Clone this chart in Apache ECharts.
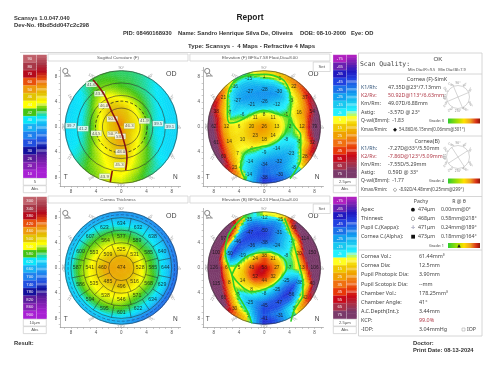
<!DOCTYPE html>
<html lang="en">
<head>
<meta charset="UTF-8">
<title>Scansys 4 Maps</title>
<style>html,body{margin:0;background:#fff}#main{width:500px;height:377px}</style>
</head>
<body>
<div id="main"></div>
<script src="https://cdn.jsdelivr.net/npm/echarts@6/dist/echarts.min.js"></script>
<script>
// colour bars
var sagScale = [90,80,70,60,50,46,44,42,40,38,36,34,30,26,20,10];
var thickScale = [300,340,380,420,460,500,540,580,620,660,700,740,780,820,860,900];
var elevScale = [-75,-65,-55,-45,-35,-25,-15,-5,5,15,25,35,45,55,65,75];
var warmCool = ['#c0606a','#a83848','#b50a1c','#e8500c','#ee9a0c','#e2c400','#ffff00','#44c414','#08e6fa','#18b0f4','#1e80ee','#2050e0','#12109c','#5a1c9c','#8420b4','#a820d4'];
var elevColors = ['#b020c0','#6820b0','#2018c0','#2040e0','#1a70e8','#10a0f0','#18c8f0','#20f0ff','#ffff20','#f0c800','#f0a000','#f07010','#e83808','#c80818','#a83048','#7a3a6a'];

// map values, one row per 1mm ring, sectors counter-clockwise from 0 deg
var sagField = [
[47,47,47,48,48,49,50,50,50,51,51,51,51,51,50,50,50,49,49,49,49,49,50,50,51,52,53,53,53,52,51,50,49,48,48,47],
[46,46,46,46,46,46.5,47,47.5,48,48.5,49,49.5,50,50,49,48,47,47,46.5,46.5,47,47,47.5,48,49,50,50.5,51,50,49,48,47,46.5,46,46,46],
[44.8,44.8,44.8,45,45,45.2,45.5,46,46.5,47,47.5,48,48,47,46.5,46,45.5,45,45,45,45,45.5,46,46,47,47.5,48.5,49,48,47,46,45.5,45,44.8,44.8,44.8],
[43,43.2,43.4,43.6,43.8,44,44.3,44.8,45.2,45.5,46,46.2,46.5,45.8,45,44.5,44,44,44,44,44.2,44.5,45,45.2,45.5,46,47,47.8,46.8,46,45,44.5,44,43.5,43.2,43],
[41.2,41.5,41.8,42,42.3,42.8,43.2,43.5,43.8,44,44.5,44.8,45,44.5,44,43.2,42.8,42.5,42.3,42.5,42.8,43.2,43.8,44.2,44.5,45.2,46,46.5,45.6,45,44,43.5,43,42.2,41.8,41.4],
[40.2,40.3,40.5,40.8,41.2,41.6,42,42.3,42.6,42.8,43.3,43.8,44,43.4,42.8,42,41.5,41.3,41.1,41.3,41.8,42.2,43,43.4,44,44.5,45.2,45.3,44.8,44,43.2,42.6,42,41,40.5,40.2],
[39.9,39.9,40,40.1,40.4,40.8,41.2,41.5,41.8,42,42.4,42.8,43,42.5,41.5,40.6,40.2,40,40,40.2,40.6,41.2,42,42.8,43.4,44,44.6,44.8,44.2,43.4,42.8,42,41,40.2,40,39.9],
[39.6,39.6,39.7,39.8,40,40.3,40.8,41.2,41.5,41.6,42,42.2,42.3,41.5,40.4,39.9,39.8,39.8,39.8,39.9,40,40.5,41.5,42.5,43,43.6,44,44.2,43.6,43,42,41.2,40.2,39.8,39.6,39.6],
[39.4,39.4,39.4,39.5,39.7,40,40.5,41,41.2,41.3,41.5,41.8,41.8,41,40,39.7,39.5,39.5,39.5,39.6,39.8,40.2,41,42,42.5,43.2,43.6,43.6,43,42.2,41.4,40.6,40,39.6,39.4,39.4]
];
var elevFField = [
[24,24,25,25,24,24,24,24,23,23,24,25,25,25,26,26,26,27,27,27,27,27,27,27,26,26,25,25,25,25,25,24,24,24,24,24],
[16,16,15,15,14,14,13,13,12,12,12,13,14,15,16,18,20,21,22,23,23,24,24,24,23,22,21,20,20,19,19,18,18,17,17,16],
[10,9,9,8,7,6,4,3,1,0,0,1,2,4,5,7,12,15,16,17,18,19,19,18,17,15,13,11,10,8,7,7,8,8,9,10],
[1,2,2,2,-2,-5,-8,-12,-16,-19,-19,-17,-14,-9,-5,-3,3,8,9,11,12,13,12,10,8,4,0,-4,-6,-8,-9,-7,-5,-4,-2,0],
[-1,0,0,1,-4,-8,-15,-20,-24,-27,-26,-25,-23,-18,-11,-6,0,4,8,9,11,10,7,4,0,-4,-10,-15,-18,-19,-18,-16,-12,-7,-4,-2],
[9,11,13,7,0,-8,-20,-27,-28,-28,-28,-27,-27,-25,-17,-14,-6,3,11,12,13,11,8,2,-6,-12,-20,-28,-29,-28,-25,-22,-18,-10,-3,5],
[29,25,25,15,6,0,-12,-20,-22,-21,-23,-24,-24,-22,-12,0,8,20,25,27,28,24,18,8,-3,-14,-24,-35,-33,-32,-26,-20,-10,0,4,14],
[68,60,42,32,22,14,6,-2,-5,-6,-12,-17,-18,-12,0,20,32,52,58,60,58,50,38,24,0,-12,-25,-37,-33,-30,-20,-9,2,24,26,58],
[95,85,72,60,48,36,28,18,12,12,6,-2,-2,8,32,48,62,76,88,90,88,80,72,50,28,0,-25,-48,-42,-36,-22,-4,26,50,62,82]
];
var thickField = [
[474],
[480,480,478,476,470,474,478,480],
[515,518,512,498,470,480,488,505],
[545,550,545,525,495,505,515,535],
[572,575,578,572,565,555,548,538,525,525,530,535,535,552,560,562],
[595,595,598,592,585,575,570,560,552,546,548,552,558,580,588,582],
[622,622,620,612,612,600,590,580,570,565,572,575,580,602,612,610],
[650,646,644,640,642,632,616,610,598,598,604,606,615,634,645,640],
[710,700,690,680,680,670,660,650,640,640,650,650,662,695,710,715]
];
var elevBField = [
[52,52,52,50,48,47,46,46,46,46,47,48,50,52,54,54,55,55,56,56,57,58,60,60,60,60,58,56,56,54,53,52,52,52,52,52],
[35,34,33,32,31,31,34,37,40,42,40,37,35,33,34,38,42,45,47,49,51,53,54,54,52,51,50,48,46,44,41,39,38,37,37,36],
[20,18,17,15,12,8,7,8,9,10,10,10,8,8,10,15,22,28,33,37,40,42,43,42,37,32,28,22,20,18,16,15,16,16,17,19],
[-2,-3,-3,-4,-8,-12,-16,-22,-26,-28,-28,-26,-25,-20,-14,-8,0,6,12,15,17,18,16,14,12,8,4,1,-3,-8,-12,-14,-14,-12,-8,-4],
[-1,-1,-2,-4,-10,-18,-26,-32,-38,-42,-42,-41,-40,-37,-34,-30,-18,-5,5,8,10,10,7,4,1,-5,-12,-18,-24,-28,-32,-35,-35,-30,-18,-6],
[9,10,13,6,-4,-12,-22,-30,-40,-47,-47,-46,-45,-44,-44,-45,-40,-15,5,7,8,5,0,-8,-15,-22,-30,-36,-40,-42,-45,-49,-48,-42,-30,-8],
[36,45,52,25,4,-6,-18,-30,-38,-40,-43,-43,-38,-28,-12,-18,-12,10,36,38,38,25,10,0,-12,-18,-32,-44,-44,-42,-38,-38,-25,-15,-5,10],
[82,110,118,90,60,42,10,-25,-28,-22,-30,-30,-5,35,60,60,65,85,96,92,85,65,45,20,6,-3,-28,-42,-35,-30,-14,-6,5,18,20,60],
[150,160,160,140,120,90,50,10,5,5,-5,0,40,80,120,130,130,140,160,150,140,110,85,55,30,14,-20,-50,-44,-30,-10,15,35,60,80,120]
];

// printed numbers on the maps, by ring radius in mm
var elevFCenter = [26];
var elevFR2 = [13,11,8,11,20,23,18,14];
var elevFR4 = [-2,-1,-12,-26,-21,-6,6,10,4,-9,-14,-8];
var elevFR6 = [12,16,-3,-30,-28,-27,-27,-7,12,14,7,-14,-34,-32,-23,-5];
var elevFR8 = [79,54,37,22,6,1,-15,-16,21,38,62,61,60,23,-14,-38,-30,-8,28,32];
var elevBCenter = [58];
var elevBR2 = [27,21,38,24,43,52,44,32];
var elevBR4 = [-7,-8,-24,-38,-36,-19,5,14,8,-8,-25,-25];
var elevBR6 = [13,20,-7,-31,-50,-47,-46,-50,6,8,-5,-25,-45,-47,-56,-38];
var elevBR8 = [106,150,114,60,-25,-12,-35,9,97,100,126,115,66,30,5,-41,-31,3,42,40];
var thickCenter = [474];
var thickR3 = [528,531,525,509,460,485,496,516];
var thickR5 = [585,585,589,577,564,553,541,535,538,546,571,568];
var thickR7 = [644,640,638,632,634,623,607,600,587,586,594,595,601,622,634,629];
var sagLabelX = [-4.76,-3.44,-2.75,-1.43,-1.38,-0.16,-0.05,-0.3,-2.65,-8,-6.08,-3.97,1.27,3.65,5.82,7.73];
var sagLabelY = [6.77,5.29,3.39,1.27,-1.11,-1.48,-3.97,-6.03,-7.83,0.2,-0.26,-1,0.16,0.95,0.53,0.1];
var sagLabelText = ['41.6','43.8','46.0','50.5','50.7','53.8','48.0','45.3','43.9','39.7','41.2','44.5','46.3','41.9','39.5','39.1'];

// traced lines, mm
var sagAxisA = [[-4.5,7.51],[-2.8,5.29],[-1.48,2.38],[-0.42,0.26],[0.37,-2.12],[0.9,-4.76],[0.69,-6.88]];
var sagAxisB = [[-1.43,-6.98],[-1.75,-8.73]];
var elevFTop = [[-5.59,5.93],[-4.63,7.3],[-2.52,8.2],[0.13,8.36],[2.77,7.67],[3.67,6.61],[4.1,5.29],[4.2,3.44],[3.88,1.59],[1.98,2.12],[-0.14,2.65],[-2.25,1.85],[-4.37,0.79],[-5.43,0.63],[-5.85,2.12],[-5.85,4.23],[-5.59,5.93]];
var elevFLowL = [[-3.05,-8.2],[-3.74,-6.35],[-3.42,-4.76],[-2.52,-3.7],[-0.67,-3.17],[1.45,-2.65],[3.3,-1.06],[3.99,1.32]];
var elevFLowR = [[3.99,1.32],[4.89,0],[5.79,-1.32],[5.79,-3.17],[5.79,-5.03],[5.15,-6.61],[4.1,-8.2]];
var elevBIsland = [[-5.13,-1.11],[-4.07,0.74],[-1.96,2.17],[0.95,2.49],[3.07,1.53],[3.6,0.21],[2.8,-1.38],[0.95,-2.96],[-1.96,-3.76],[-3.81,-2.7],[-5.13,-1.11]];
var elevBLeft = [[-3,8.3],[-4.6,6.83],[-5.8,4.97],[-6.19,2.6],[-5.82,0.74],[-5.13,-1.11],[-4.6,-3.49],[-3.54,-5.34],[-2.65,-6.93],[-1.96,-8.78]];
var elevBRight = [[3.23,7.88],[3.86,6.3],[4.55,4.29],[5.08,2.33],[5.61,0.21],[6.14,-2.17],[6.14,-4.29],[5.45,-5.61],[4.76,-6.67],[4.23,-8.52]];

var degLabels = [0,30,60,90,120,150,180,210,240,270,300,330];
var axisLabelVals = [-8,-4,0,4,8];
var axisTickVals = [-9,-8,-7,-6,-5,-4,-3,-2,-1,0,1,2,3,4,5,6,7,8,9];

var PX = 6.3, RIM = 8.94;
var FONT = 'Liberation Sans';
var chart = echarts.init(document.getElementById('main'));
var grids = [], xAxes = [], yAxes = [], series = [], graphic = [];

function colorFn(vals, cols) {
    var pairs = vals.map(function (v, i) { return [v, cols[i]]; }).sort(function (a, b) { return a[0] - b[0]; });
    return function (v) {
        if (v <= pairs[0][0]) return pairs[0][1];
        for (var i = 1; i < pairs.length; i++) {
            if (v <= pairs[i][0]) {
                return echarts.color.lerp((v - pairs[i - 1][0]) / (pairs[i][0] - pairs[i - 1][0]), [pairs[i - 1][1], pairs[i][1]]);
            }
        }
        return pairs[pairs.length - 1][1];
    };
}
var sagColor = colorFn(sagScale, warmCool);
var thickColor = colorFn(thickScale, warmCool);
// elevation needs the green zero line between cyan and yellow
var elevColor = colorFn(elevScale.concat([0]), elevColors.concat(['#3cd828']));

function polar(r, deg) {
    var a = deg * Math.PI / 180;
    return [r * Math.cos(a), r * Math.sin(a)];
}

function addGrid(cx, cy) {
    var xMin = -9.7, xMax = 9.4, yMax = 9.45;
    grids.push({ left: cx + xMin * PX, top: cy - yMax * PX, width: (xMax - xMin) * PX, height: 2 * yMax * PX });
    var common = {
        type: 'value', splitLine: { show: false },
        axisLine: { show: true, onZero: false, lineStyle: { color: '#999', width: 0.7 } },
        axisTick: { show: true, customValues: axisTickVals, length: 1.5, lineStyle: { color: '#999', width: 0.5 } },
        axisLabel: { customValues: axisLabelVals, fontSize: 4.5, color: '#555', margin: 3, fontFamily: FONT, formatter: function (v) { return Math.abs(v); } }
    };
    xAxes.push(Object.assign({}, common, { gridIndex: grids.length - 1, min: xMin, max: xMax, position: 'bottom' }));
    yAxes.push(Object.assign({}, common, { gridIndex: grids.length - 1, min: -yMax, max: yMax, position: 'left' }));
    return grids.length - 1;
}

function ringAt(row, deg) {
    var n = row.length;
    if (n === 1) return row[0];
    var p = ((deg / (360 / n)) % n + n) % n, a = Math.floor(p), t = p - a;
    return row[a] * (1 - t) + row[(a + 1) % n] * t;
}
// shading inside a cell blends towards the neighbouring cells
function shadeAt(field, r, deg) {
    var q = r - 0.5;
    if (q <= 0) return ringAt(field[0], deg);
    if (q >= field.length - 1) return ringAt(field[field.length - 1], deg);
    var a = Math.floor(q), t = q - a;
    return ringAt(field[a], deg) * (1 - t) + ringAt(field[a + 1], deg) * t;
}

function addField(g, field, colorOf) {
    var data = [];
    field.forEach(function (row, k) {
        row.forEach(function (v, i) { data.push([k, i, v]); });
    });
    var radialSub = 3;
    series.push({
        type: 'custom', xAxisIndex: g, yAxisIndex: g, silent: true, data: data,
        encode: { x: -1, y: -1 },
        renderItem: function (params, api) {
            var k = api.value(0), i = api.value(1);
            var n = field[k].length, step = 360 / n, deg = i * step;
            var c = api.coord([0, 0]), px = api.size([1, 1])[0];
            var rEnd = Math.min(k + 1, RIM), angSub = Math.min(Math.ceil(step / 3.4), 40);
            var kids = [];
            for (var a = 0; a < radialSub; a++) {
                var r0 = k + (rEnd - k) * a / radialSub, r1 = k + (rEnd - k) * (a + 1) / radialSub;
                for (var b = 0; b < angSub; b++) {
                    var d0 = deg - step / 2 + step * b / angSub, d1 = d0 + step / angSub;
                    var col = colorOf(shadeAt(field, (r0 + r1) / 2, (d0 + d1) / 2));
                    kids.push({
                        type: 'sector',
                        shape: {
                            cx: c[0], cy: c[1], r0: r0 * px, r: r1 * px, clockwise: true,
                            startAngle: -d1 * Math.PI / 180, endAngle: -d0 * Math.PI / 180
                        },
                        style: { fill: col, stroke: col, lineWidth: 0.5 }
                    });
                }
            }
            return { type: 'group', children: kids };
        }
    });
}

// rings: [radius, dashed]
function addRings(g, rings, color, width) {
    series.push({
        type: 'custom', xAxisIndex: g, yAxisIndex: g, silent: true, data: rings, encode: { x: -1, y: -1 },
        renderItem: function (params, api) {
            var c = api.coord([0, 0]), px = api.size([1, 1])[0];
            return {
                type: 'circle', shape: { cx: c[0], cy: c[1], r: api.value(0) * px },
                style: { fill: 'none', stroke: color, lineWidth: width, lineDash: api.value(1) ? [3, 2] : null }
            };
        }
    });
}

// spokes: [r0, r1, angle]
function addSpokes(g, spokes) {
    series.push({
        type: 'custom', xAxisIndex: g, yAxisIndex: g, silent: true, data: spokes, encode: { x: -1, y: -1 },
        renderItem: function (params, api) {
            var a = api.coord(polar(api.value(0), api.value(2)));
            var b = api.coord(polar(api.value(1), api.value(2)));
            return { type: 'line', shape: { x1: a[0], y1: a[1], x2: b[0], y2: b[1] }, style: { stroke: '#222', lineWidth: 0.5 } };
        }
    });
}

function addLine(g, pts, color, width) {
    series.push({
        type: 'line', xAxisIndex: g, yAxisIndex: g, data: pts, showSymbol: false, smooth: 0.4, clip: false, silent: true,
        lineStyle: { color: color, width: width }
    });
}

function addLabels(g, pts, style) {
    series.push({
        type: 'scatter', xAxisIndex: g, yAxisIndex: g, data: pts, symbolSize: 0, silent: true, clip: false,
        label: Object.assign({
            show: true, position: 'inside', fontFamily: FONT, fontSize: 4.8, color: '#111',
            formatter: function (p) { return p.value[2]; }
        }, style || {})
    });
}

function ringLabels() {
    var pts = [];
    for (var a = 0; a < arguments.length; a += 2) {
        var r = arguments[a], vals = arguments[a + 1];
        vals.forEach(function (v, i) {
            var p = polar(r, i * 360 / vals.length);
            pts.push([p[0], p[1], String(v)]);
        });
    }
    return pts;
}

function addDegrees(g) {
    degLabels.forEach(function (d) {
        var p = polar(9.3, d);
        var rot = d <= 180 ? 90 - d : 270 - d;
        addLabels(g, [[p[0], p[1], d + '°']], { fontSize: 3.8, color: '#777', rotate: rot });
    });
}

function addBar(left, top, cellH, vals, cols, unit) {
    var n = vals.length;
    grids.push({ left: left, top: top, width: 13, height: cellH * n });
    xAxes.push({ type: 'category', gridIndex: grids.length - 1, data: ['c'], show: false });
    yAxes.push({ type: 'category', gridIndex: grids.length - 1, data: vals.map(String), inverse: true, show: false });
    series.push({
        type: 'heatmap', xAxisIndex: grids.length - 1, yAxisIndex: grids.length - 1, silent: true,
        data: vals.map(function (v, i) { return { value: [0, i, v], itemStyle: { color: cols[i], borderColor: 'rgba(255,255,255,0.35)', borderWidth: 0.5 } }; }),
        label: { show: true, fontSize: 4.2, color: '#f4f0f0', fontFamily: FONT, formatter: function (p) { return p.value[2]; } }
    });
    // fine stripes next to the labelled cells
    var rows = [], data = [];
    vals.forEach(function (v, i) {
        [0, 1, 2].forEach(function (j) {
            var next = cols[Math.min(i + 1, n - 1)];
            var c = echarts.color.lerp(j / 3, [cols[i], next]);
            if (j === 1 && i > 2 && i < 13) c = echarts.color.lerp(0.3, [c, '#ffffff']);
            data.push({ value: [0, rows.length, v], itemStyle: { color: c } });
            rows.push(String(rows.length));
        });
    });
    grids.push({ left: left + 13.7, top: top, width: 9.5, height: cellH * n });
    xAxes.push({ type: 'category', gridIndex: grids.length - 1, data: ['c'], show: false });
    yAxes.push({ type: 'category', gridIndex: grids.length - 1, data: rows, inverse: true, show: false });
    series.push({ type: 'heatmap', xAxisIndex: grids.length - 1, yAxisIndex: grids.length - 1, silent: true, data: data });
    var y = top + cellH * n + 0.5;
    box(left, y, 23, 7, unit, { size: 4.2 });
    box(left, y + 7.5, 23, 7, 'Abs', { size: 4.2 });
}

// chrome helpers
function text(x, y, str, o) {
    o = o || {};
    graphic.push({
        type: 'text', x: x, y: y, rotation: o.rot || 0, silent: true,
        style: {
            text: str, fontFamily: o.font || 'Noto Sans', fontSize: o.size || 5.6, fontWeight: o.bold ? 'bold' : 'normal',
            fill: o.color || '#444', textAlign: o.align || 'left', textVerticalAlign: 'middle'
        }
    });
}
function box(x, y, w, h, label, o) {
    graphic.push({ type: 'rect', silent: true, shape: { x: x, y: y, width: w, height: h }, style: { fill: '#fff', stroke: '#ccc', lineWidth: 0.7 } });
    if (label) text(x + w / 2, y + h / 2, label, Object.assign({ align: 'center', font: FONT, color: '#555' }, o || {}));
}
function hline(x1, x2, y) {
    graphic.push({ type: 'line', silent: true, shape: { x1: x1, y1: y, x2: x2, y2: y }, style: { stroke: '#ccc', lineWidth: 0.8 } });
}
function mapChrome(cx, cy, title, set) {
    box(cx - 73.3, cy - 73, 140, 7, title, { size: 4.4 });
    graphic.push({ type: 'circle', silent: true, shape: { cx: cx - 56, cy: cy - 56, r: 2.6 }, style: { fill: 'none', stroke: '#555', lineWidth: 0.7 } });
    graphic.push({ type: 'line', silent: true, shape: { x1: cx - 54, y1: cy - 54, x2: cx - 52, y2: cy - 52 }, style: { stroke: '#555', lineWidth: 0.7 } });
    text(cx - 54, cy - 51, '3mm', { size: 3, font: FONT, align: 'center' });
    text(cx + 50, cy - 53, 'OD', { size: 7, font: FONT, align: 'center', color: '#444' });
    text(cx - 55.5, cy + 50.5, 'T', { size: 6.5, font: FONT, align: 'center' });
    text(cx + 54, cy + 50.5, 'N', { size: 6.5, font: FONT, align: 'center' });
    if (set) box(cx + 50, cy - 65, 17, 9.5, 'Set', { size: 4.4 });
}
function gradeBar(x, y, mark, markX) {
    graphic.push({
        type: 'rect', silent: true, shape: { x: x, y: y, width: 32, height: 5 },
        style: { fill: { type: 'linear', x: 0, y: 0, x2: 1, y2: 0, colorStops: [
            { offset: 0, color: '#2ecc2e' }, { offset: 0.3, color: '#a8e000' }, { offset: 0.5, color: '#ffe000' },
            { offset: 0.7, color: '#f0a020' }, { offset: 0.88, color: '#d83018' }, { offset: 1, color: '#901808' }] } }
    });
    if (mark) text(markX, y + 2.5, mark, { font: 'DejaVu Sans', size: 4.6, align: 'center', color: '#222' });
}
function dial(cx, cy, k1) {
    graphic.push({ type: 'circle', silent: true, shape: { cx: cx, cy: cy, r: 11.5 }, style: { fill: 'none', stroke: '#aaa', lineWidth: 0.5 } });
    [k1, k1 + 90].forEach(function (a) {
        var p = polar(11.5, a);
        graphic.push({ type: 'line', silent: true, shape: { x1: cx - p[0], y1: cy + p[1], x2: cx + p[0], y2: cy - p[1] }, style: { stroke: '#aaa', lineWidth: 0.5 } });
    });
    degLabels.forEach(function (d) {
        if (d === 0) return;
        var p = polar(14.2, d);
        var rot = (d <= 180 ? 90 - d : 270 - d) * Math.PI / 180;
        text(cx + p[0], cy - p[1], d + '°', { size: 3.2, font: FONT, align: 'center', rot: rot, color: '#888' });
    });
}

// maps
var M1 = [121.3, 127], M2 = [264.2, 127], M3 = [121.3, 268], M4 = [264.2, 268];

var g1 = addGrid(M1[0], M1[1]);
addField(g1, sagField, sagColor);
addRings(g1, [[3, 0], [5, 0], [7, 0], [RIM, 0]], '#333', 0.6);
addRings(g1, [[4.1, 1]], '#222', 0.8);
addLine(g1, sagAxisA, '#8a1410', 1.6);
addLine(g1, sagAxisB, '#8a1410', 1.6);
addLabels(g1, sagLabelX.map(function (x, i) { return [x, sagLabelY[i], sagLabelText[i]]; }), {
    fontSize: 4.4, backgroundColor: '#fff', padding: [0.6, 1], borderColor: '#7a7', borderWidth: 0.3, color: '#333'
});
addDegrees(g1);

var g2 = addGrid(M2[0], M2[1]);
addField(g2, elevFField, elevColor);
addRings(g2, [[RIM, 0]], '#333', 0.6);
addLine(g2, elevFTop, '#2ecf26', 1.6);
addLine(g2, elevFLowL, '#2ecf26', 1.6);
addLine(g2, elevFLowR, '#2ecf26', 1.6);
addLabels(g2, ringLabels(0, elevFCenter, 2, elevFR2, 4, elevFR4, 6, elevFR6, 8, elevFR8));
addDegrees(g2);

var g3 = addGrid(M3[0], M3[1]);
addField(g3, thickField, thickColor);
addRings(g3, [[2, 0], [4, 0], [6, 0], [8, 0], [RIM, 0]], '#222', 0.5);
addRings(g3, [[8.45, 1]], '#224', 0.4);
var spokes = [];
[22.5,67.5,112.5,157.5,202.5,247.5,292.5,337.5].forEach(function (a) { spokes.push([2, 4, a]); });
[15,45,75,105,135,165,195,225,255,285,315,345].forEach(function (a) { spokes.push([4, 6, a]); });
[11.25,33.75,56.25,78.75,101.25,123.75,146.25,168.75,191.25,213.75,236.25,258.75,281.25,303.75,326.25,348.75].forEach(function (a) { spokes.push([6, 8, a]); });
addSpokes(g3, spokes);
addLabels(g3, ringLabels(0, thickCenter, 3, thickR3, 5, thickR5, 7, thickR7), { fontSize: 5.2 });
addDegrees(g3);

var g4 = addGrid(M4[0], M4[1]);
addField(g4, elevBField, elevColor);
addRings(g4, [[RIM, 0]], '#333', 0.6);
addLine(g4, elevBIsland, '#2ecf26', 1.6);
addLine(g4, elevBLeft, '#2ecf26', 1.6);
addLine(g4, elevBRight, '#2ecf26', 1.6);
addLabels(g4, ringLabels(0, elevBCenter, 2, elevBR2, 4, elevBR4, 6, elevBR6, 8, elevBR8));
addDegrees(g4);

// header
var HEAD = { font: FONT, bold: true, size: 5.8, color: '#333' };
text(14, 18, 'Scansys 1.0.047.040', HEAD);
text(14, 25, 'Dev-No. f8bd5dd047c2c298', HEAD);
text(250, 18, 'Report', { font: FONT, bold: true, size: 8.4, align: 'center', color: '#222' });
text(123, 33, 'PID: 08460168930', HEAD);
text(178, 33, 'Name: Sandro Henrique Silva De, Oliveira', HEAD);
text(300, 33, 'DOB: 08-10-2000', HEAD);
text(351, 33, 'Eye: OD', HEAD);
text(188, 46.5, 'Type: Scansys -  4 Maps - Refractive 4 Maps', { font: FONT, bold: true, size: 6.1, color: '#333' });
text(14, 343, 'Result:', HEAD);
text(413, 343.5, 'Doctor:', HEAD);
text(413, 350.5, 'Print Date: 08-13-2024', HEAD);
hline(20, 332, 52.5);

mapChrome(M1[0], M1[1], 'Sagittal Curvature (F)', false);
mapChrome(M2[0] - 1, M2[1], 'Elevation (F) BFS=7.58 Float,Dia=8.00', true);
mapChrome(M3[0], M3[1] + 1, 'Cornea Thickness', false);
mapChrome(M4[0] - 1, M4[1] + 1, 'Elevation (B) BFS=6.24 Float,Dia=8.00', true);

addBar(23.3, 55, 7.67, sagScale, warmCool, '5');
addBar(333.3, 55, 7.67, elevScale, elevColors, '2.5µm');
addBar(23.3, 197, 7.6, thickScale, warmCool, '10µm');
addBar(333.3, 197, 7.6, elevScale, elevColors, '2.5µm');

// right panel
graphic.push({ type: 'rect', silent: true, shape: { x: 358.5, y: 53, width: 123.5, height: 283 }, style: { fill: 'none', stroke: '#ccc', lineWidth: 0.8 } });
hline(358.5, 482, 74);
hline(358.5, 482, 136);
hline(358.5, 482, 196.5);
hline(358.5, 482, 250);
text(360, 64, 'Scan Quality:', { font: 'DejaVu Sans Mono', size: 6.4 });
text(438, 59, 'OK', { size: 6.2, align: 'center', font: FONT });
text(408, 69.5, 'Min Dia:(F)=9.5   Min Dia:(B)=7.9', { size: 3.9 });

var BLUE = '#33557a', RED = '#b03a48';
text(427, 79, 'Cornea (F)-SimK', { align: 'center', size: 5.4 });
var frontNames = ['K1/Rh:', 'K2/Rv:', 'Km/Rm:', 'Astig:'];
var frontVals = ['47.35D@23°/7.13mm', '50.92D@113°/6.63mm', '49.07D/6.88mm', '-3.57D @ 23°'];
var backVals = ['-7.27D@33°/5.50mm', '-7.86D@123°/5.09mm', '-7.55D/5.29mm', '0.59D @ 33°'];
frontNames.forEach(function (n, i) {
    var col = i === 0 ? BLUE : (i === 1 ? RED : '#444');
    text(361, 87 + i * 8.4, n, { color: col, size: 5.3 });
    text(388, 87 + i * 8.4, frontVals[i], { color: i === 1 ? RED : '#444', size: 5.3 });
    text(361, 148.5 + i * 8.1, n, { color: col, size: 5.3 });
    text(388, 148.5 + i * 8.1, backVals[i], { color: i === 1 ? RED : '#444', size: 5.3 });
});
text(361, 121, 'Q-val(8mm):  -1.83', { size: 5 });
text(429, 121, 'Grade: 3', { size: 3.8 });
gradeBar(448, 118.5);
text(361, 130, 'Kmax/Rmin: ', { size: 4.6 });
text(393, 130, '◆', { font: 'DejaVu Sans', size: 5.2, color: '#111' });
text(399, 130, '54.86D/6.15mm(0.06mm@301°)', { size: 4.4 });
dial(458, 97, 23);

text(427, 141, 'Cornea(B)', { align: 'center', size: 5.4 });
text(361, 181, 'Q-val(8mm):  -1.77', { size: 5 });
text(429, 181, 'Grade: 4', { size: 3.8 });
gradeBar(448, 178.5);
text(361, 190, 'Kmax/Rmin: ', { size: 4.6 });
text(393, 190, '◇', { font: 'DejaVu Sans', size: 5.2, color: '#111' });
text(399, 190, '-8.92D/4.48mm(0.25mm@299°)', { size: 4.4 });
dial(458, 157, 33);

text(421, 201.5, 'Pachy', { align: 'center', size: 5.2 });
text(459, 201.5, 'R @ θ', { align: 'center', size: 5.2 });
var pachyNames = ['Apex:', 'Thinnest:', 'Pupil C.(Kappa):', 'Cornea C.(Alpha):'];
var pachyMarks = ['●', '○', '✛', '■'];
var pachyVals = ['474μm', '468μm', '471μm', '473μm'];
var pachyPos = ['0.00mm@0°', '0.58mm@218°', '0.24mm@189°', '0.18mm@164°'];
pachyNames.forEach(function (n, i) {
    var y = 210 + i * 8.8;
    text(361, y, n, { size: 5.2 });
    text(413, y, pachyMarks[i], { font: 'DejaVu Sans', size: 5, align: 'center', color: i === 2 ? '#779' : '#111' });
    text(418, y, pachyVals[i], { size: 5.2 });
    text(441, y, pachyPos[i], { size: 5.2 });
});
text(429, 245.5, 'Grade: 1', { size: 3.8 });
gradeBar(448, 243, '▲', 459);

var infoNames = ['Cornea Vol.:', 'Cornea Dia:', 'Pupil Photopic Dia:', 'Pupil Scotopic Dia:', 'Chamber Vol.:', 'Chamber Angle:', 'A.C.Depth(Int.):', 'KCP:', '-IOP:'];
var infoVals = ['61.44mm³', '12.5mm', '3.90mm', '--mm', '178.25mm³', '41°', '3.44mm', '99.0%', '3.04mmHg'];
infoNames.forEach(function (n, i) {
    var y = 256.7 + i * 9.1;
    text(361, y, n, { size: 5.4 });
    text(419, y, infoVals[i], { size: 5.4, color: i === 7 ? RED : '#444' });
});
graphic.push({ type: 'rect', silent: true, shape: { x: 462, y: 328, width: 3, height: 3 }, style: { fill: 'none', stroke: '#999', lineWidth: 0.5 } });
text(467, 330, 'IOP', { size: 5.2 });

chart.setOption({
    animation: false,
    backgroundColor: '#fff',
    grid: grids,
    xAxis: xAxes,
    yAxis: yAxes,
    series: series,
    graphic: graphic
});
</script>
</body>
</html>
